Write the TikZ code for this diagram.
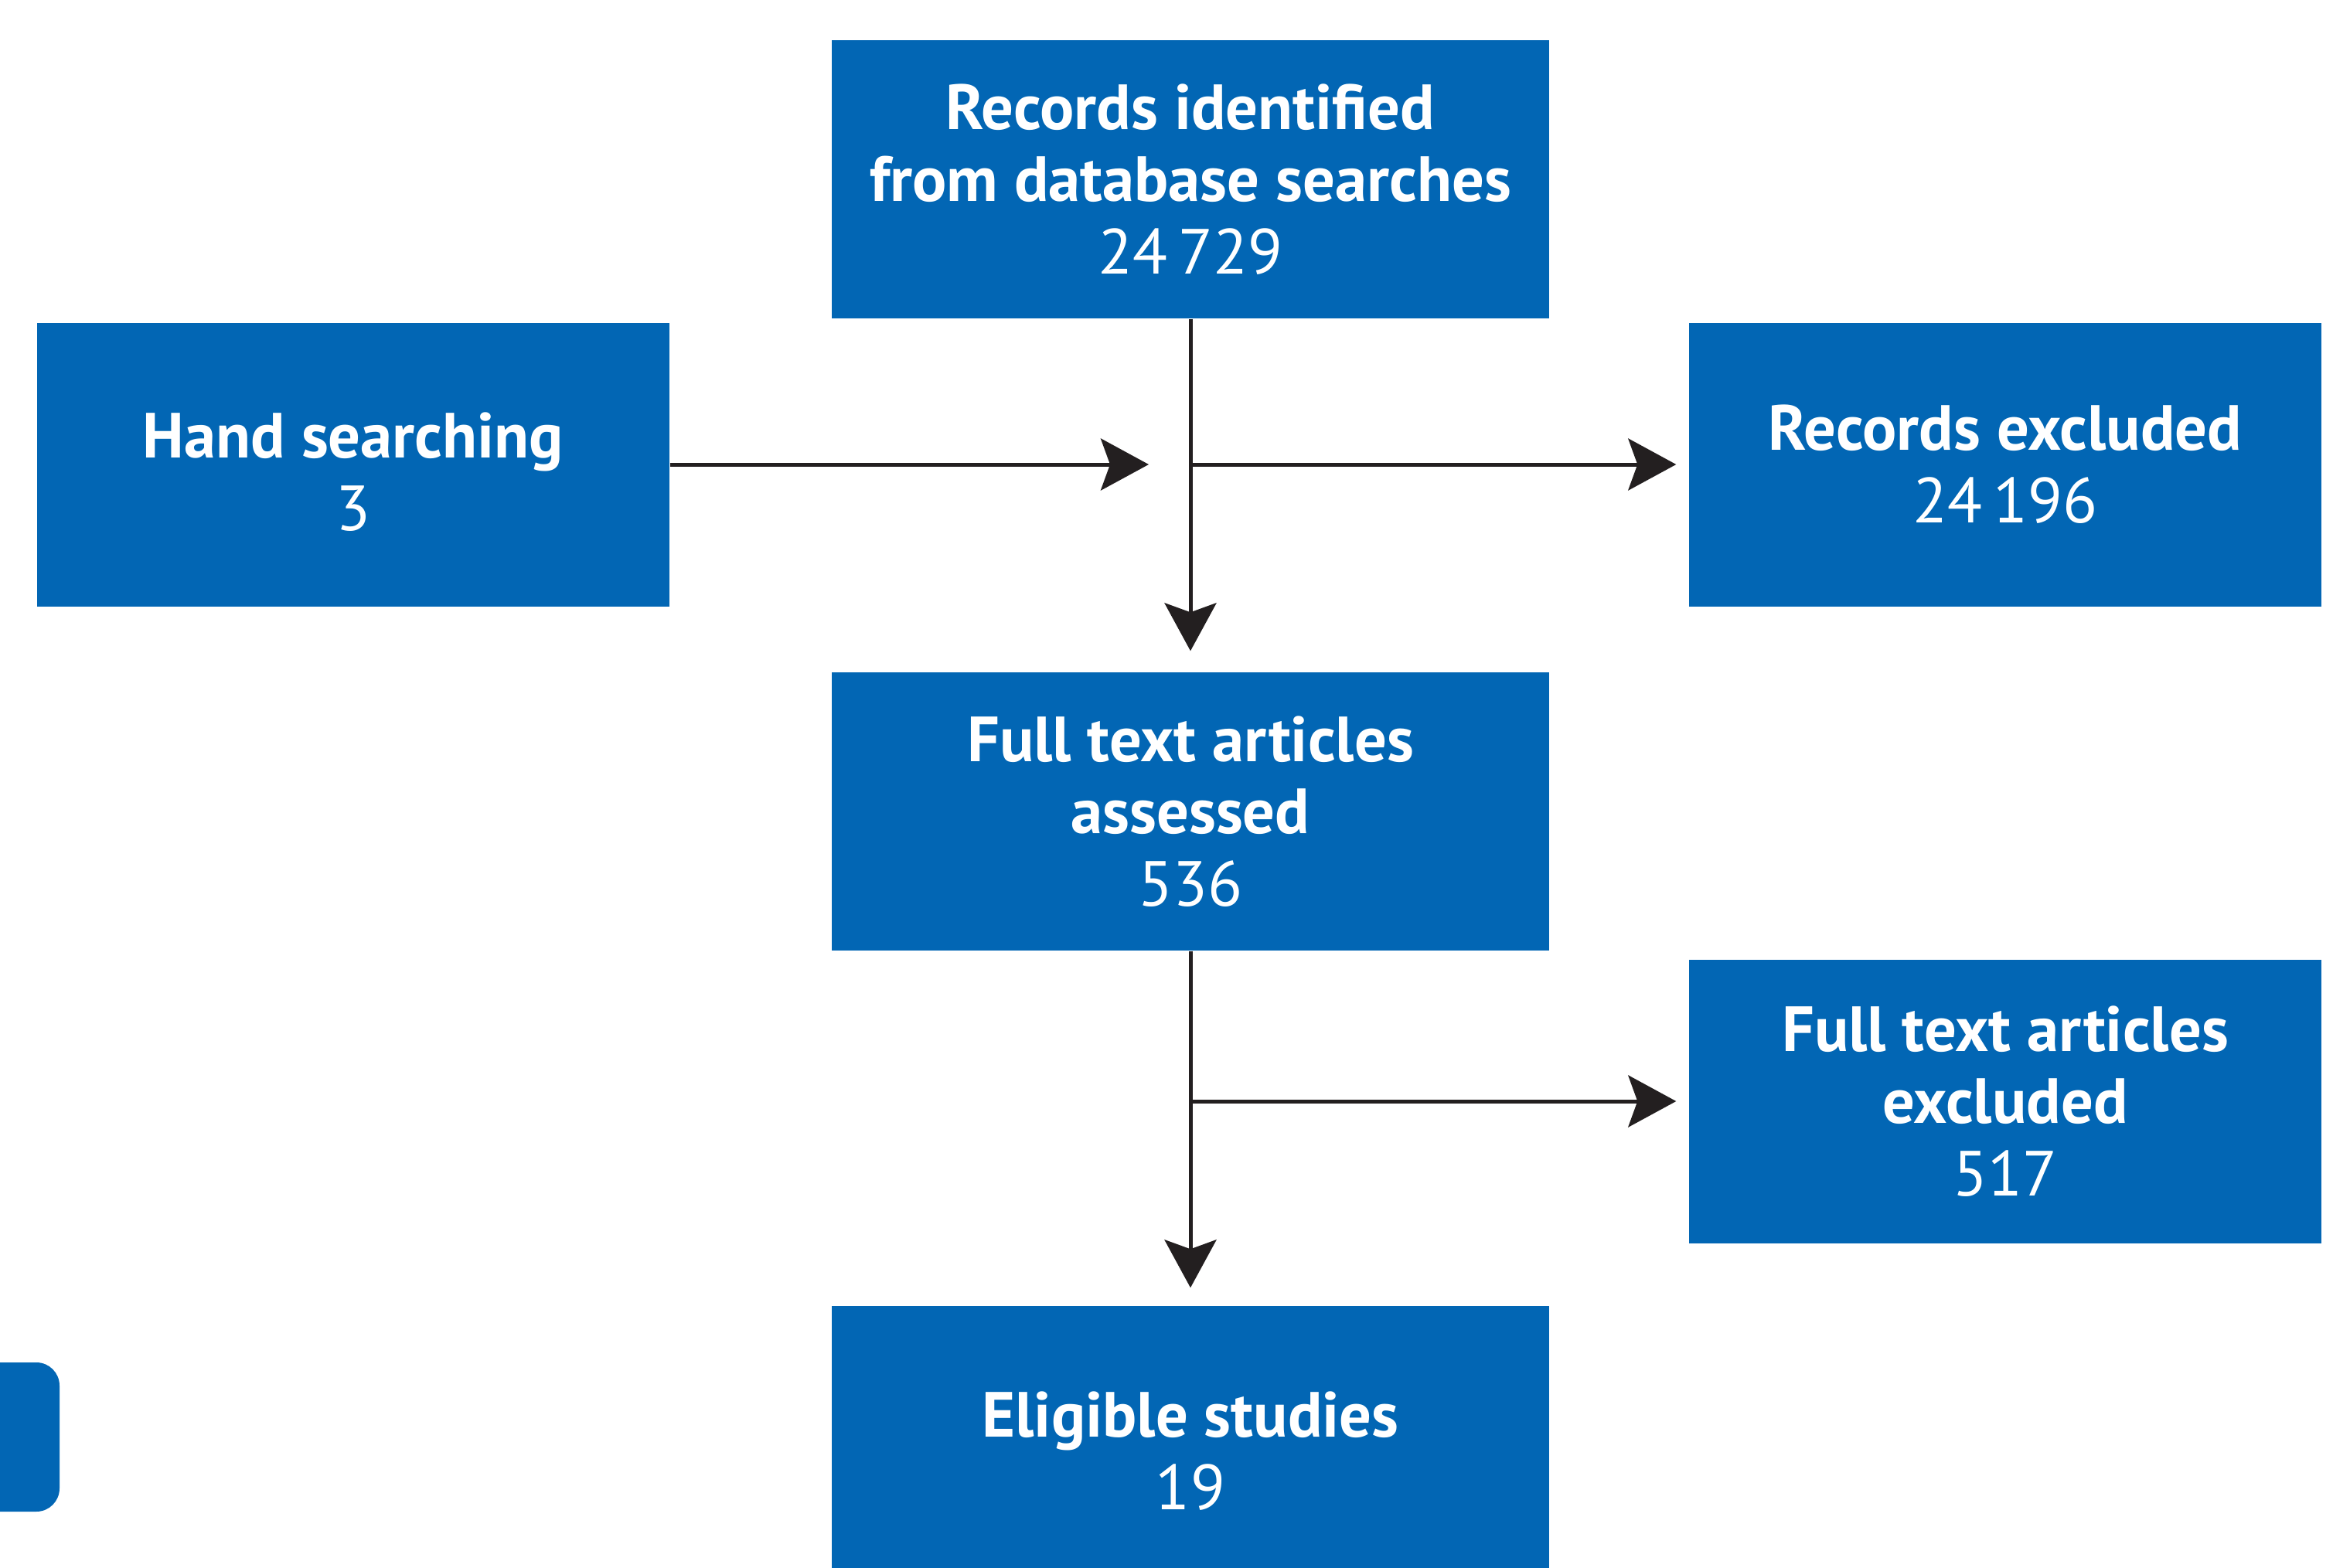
\documentclass[tikz,border=0pt]{standalone}
\usepackage{fontspec}
\setmainfont{PT Sans}
\usepackage{tikz}
\usetikzlibrary{arrows.meta}
\definecolor{boxblue}{RGB}{2,102,180}
\definecolor{linegray}{RGB}{35,31,32}

\begin{document}
\begin{tikzpicture}[
	boxtext/.style={text=white, align=center, inner sep=0pt,
		font=\fontsize{23.5}{26.7}\selectfont},
	stagebox/.style={boxtext, fill=boxblue,
		minimum width=9.28cm, minimum height=3.6cm},
	sidebox/.style={stagebox, minimum width=8.18cm, minimum height=3.67cm},
	flow/.style={-{Stealth[length=0.62cm, width=0.67cm, inset=0.12cm]}, line width=0.05cm, color=linegray}
	]
	\useasboundingbox (0,0) rectangle (30.18,-20.29);
	\clip (0,0) rectangle (30.18,-20.29);
	% boxes
	\node[stagebox] (records) at (15.40,-2.32) {\textbf{Records identified}\\\textbf{from database searches}\\24\,729};
	\node[sidebox] (hand) at (4.57,-6.01) {};
	\node[boxtext] (handtext) at (4.57,-6.11) {\textbf{Hand searching}\\3};
	\node[sidebox] (recexcl) at (25.94,-6.01) {\textbf{Records excluded}\\24\,196};
	\node[stagebox] (assessed) at (15.40,-10.50) {\textbf{Full text articles}\\\textbf{assessed}\\536};
	\node[sidebox] (ftexcl) at (25.94,-14.25) {\textbf{Full text articles}\\\textbf{excluded}\\517};
	\node[stagebox] (eligible) at (15.40,-18.70) {};
	\node[boxtext] (eligtext) at (15.40,-18.78) {\textbf{Eligible studies}\\19};
	% side tab
	\fill[boxblue, rounded corners=0.3cm] (-0.5,-17.63) rectangle (0.77,-19.56);
	% junctions
	\coordinate (join1) at (15.40,-6.01);
	\coordinate (join2) at (15.40,-14.25);
	% connectors
	\draw[flow, shorten >=0.27cm] (records) -- (assessed);
	\draw[flow, shorten >=0.54cm] (hand) -- (join1);
	\draw[flow, shorten >=0.16cm] (join1) -- (recexcl);
	\draw[flow, shorten >=0.23cm] (assessed) -- (eligible);
	\draw[flow, shorten >=0.16cm] (join2) -- (ftexcl);
\end{tikzpicture}
\end{document}
